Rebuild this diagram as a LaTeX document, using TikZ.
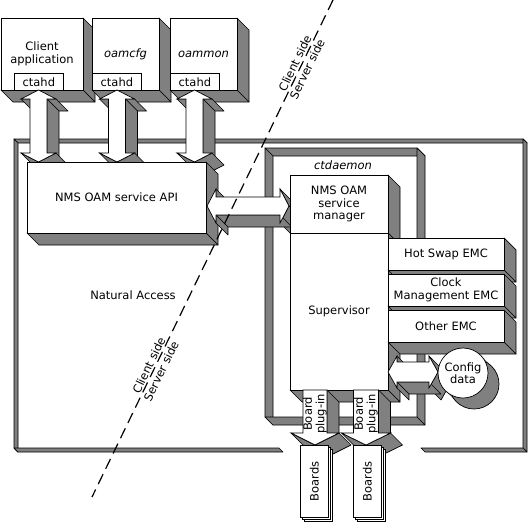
\documentclass[tikz,border=0pt]{standalone}
\usepackage{fontspec}
\setmainfont{DejaVu Sans}[ItalicFont={DejaVu Sans Oblique}]
\definecolor{shd}{RGB}{128,128,128}
% extruded polygon: list of x/y points, first repeated at the end
\newcommand\xpoly[2][12]{%
  \foreach \ax/\ay [count=\ii] in {#2}{%
    \ifnum\ii>1\relax
      \pgfmathtruncatemacro\vis{((\ay)-(\by))-((\ax)-(\bx))>0.001}%
      \ifnum\vis=1\relax
        \filldraw[xside] (\bx,\by) -- (\ax,\ay) -- ({\ax+#1},{\ay+#1}) -- ({\bx+#1},{\by+#1}) -- cycle;
      \fi
    \fi
    \xdef\bx{\ax}\xdef\by{\ay}%
  }%
  \foreach \ax/\ay [count=\ii] in {#2}{%
    \ifnum\ii=1\relax\xdef\xpath{(\ax,\ay)}\else\xdef\xpath{\xpath -- (\ax,\ay)}\fi
  }%
  \edef\xcmd{\noexpand\filldraw[xface] \xpath -- cycle;}\xcmd
}
\newcommand\xbox[7][12]{%
  \xpoly[#1]{#3/#4, #5/#4, #5/#6, #3/#6, #3/#4}%
  \node (#2) at ({(#3+#5)/2},{(#4+#6)/2}) {#7};
}
\begin{document}
\begin{tikzpicture}[x=1pt,y=-1pt,
  every node/.style={font=\fontsize{11.5}{12.4}\selectfont, inner sep=0pt, align=center},
  xside/.style={fill=shd, draw=black, line width=0.7pt, line join=round},
  xface/.style={fill=white, draw=black, line width=0.7pt},
  smallbox/.style={draw=black, fill=white, line width=0.7pt, anchor=north west, minimum height=17pt, minimum width=49pt},
  pagebox/.style={draw=black, fill=white, line width=0.7pt, anchor=north west, minimum width=28pt, minimum height=72pt},
  sidelabel/.style={rotate=64.1, font=\fontsize{11.5}{13.6}\selectfont},
  divider/.style={draw=black, line width=1.2pt, dash pattern=on 11pt off 6pt}]
\useasboundingbox (0,0) rectangle (529,522);

% Natural Access frame
\filldraw[xside] (14,139) -- (523,139) -- (527,143) -- (18,143) -- cycle;
\filldraw[xside] (14,139) -- (18,143) -- (18,452) -- (14,448) -- cycle;
\filldraw[xside] (523,139) -- (527,143) -- (527,452) -- (523,448) -- cycle;
\filldraw[xside] (14,448) -- (279,448) -- (283,452) -- (18,452) -- cycle;
\filldraw[xside] (421,448) -- (523,448) -- (527,452) -- (425,452) -- cycle;
\node (na) at (133,295) {Natural Access};

% ctdaemon frame
\filldraw[xside] (265,148) -- (417,148) -- (425,156) -- (273,156) -- cycle;
\filldraw[xside] (265,148) -- (273,156) -- (273,425) -- (265,417) -- cycle;
\filldraw[xside] (417,148) -- (425,156) -- (425,425) -- (417,417) -- cycle;
\filldraw[xside] (265,417) -- (417,417) -- (425,425) -- (273,425) -- cycle;
\node (ctd) at (343,165) {\itshape ctdaemon};

% client processes
\xbox{cli}{1}{18}{83}{90}{Client\\application}
\node[smallbox] (ct1) at (14,73) {ctahd};
\xbox{cfg}{92}{18}{159}{90}{\itshape oamcfg}
\node[smallbox] (ct2) at (92,73) {ctahd};
\xbox{mon}{170}{18}{237}{90}{\itshape oammon}
\node[smallbox] (ct3) at (170,73) {ctahd};

% vertical double arrows
\xpoly{38.5/90, 56/99, 47/99, 47/153, 56/153, 38.5/162, 21/153, 30/153, 30/99, 21/99, 38.5/90}
\xpoly{117/90, 134.5/99, 125.5/99, 125.5/153, 134.5/153, 117/162, 99.5/153, 108.5/153, 108.5/99, 99.5/99, 117/90}
\xpoly{194.5/90, 212/99, 203/99, 203/153, 212/153, 194.5/162, 177/153, 186/153, 186/99, 177/99, 194.5/90}

% API
\xbox{api}{27}{162}{206}{233}{NMS OAM service API}

% API <-> manager
\xpoly{207/206, 216/189, 216/197, 280/197, 280/189, 289/206, 280/223, 280/215, 216/215, 216/223, 207/206}

% manager / supervisor
\xbox{mgr}{290}{175}{388}{233}{NMS OAM\\service\\manager}
\xbox{sup}{290}{233}{388}{390}{Supervisor}

% EMCs
\xbox{hs}{388}{238}{504}{270}{Hot Swap EMC}
\xbox{clk}{388}{274}{504}{306}{Clock\\Management EMC}
\xbox{oth}{388}{310}{504}{342}{Other EMC}

% supervisor <-> config data
\xpoly{388/372, 397/356, 397/362, 429/362, 429/356, 438/372, 429/388, 429/382, 397/382, 397/388, 388/372}
\fill[shd] (480.68,355.32) -- (491.68,366.32) -- (456.32,401.68) -- (445.32,390.68) -- cycle;
\filldraw[xside] (474,384) circle[radius=25pt];
\node[circle, draw=black, fill=white, line width=0.7pt, minimum size=50pt] (cfgd) at (463,373) {Config\\data};

% board plug-in arrows
\xpoly{303/390, 327/390, 327/433, 339/433, 315/445, 291/433, 303/433, 303/390}
\node[rotate=90] (bp1) at (315,414) {Board\\plug-in};
\xpoly{353.5/390, 378.5/390, 378.5/433, 390.5/433, 366/445, 341.5/433, 353.5/433, 353.5/390}
\node[rotate=90] (bp2) at (366,414) {Board\\plug-in};

% boards
\node[pagebox] (b1c) at (304,449) {};
\node[pagebox] (b1b) at (302,447) {};
\node[pagebox] (b1) at (300,445) {};
\node[rotate=90] (b1t) at (b1.center) {Boards};
\node[pagebox] (b2c) at (357,449) {};
\node[pagebox] (b2b) at (355,447) {};
\node[pagebox] (b2) at (353,445) {};
\node[rotate=90] (b2t) at (b2.center) {Boards};

% client/server divider
\coordinate (dtop) at (333,0);
\coordinate (dbot) at (92,497);
\draw[divider] (dtop) -- (dbot);
\node[sidelabel] (lab1) at (301,66) {Client side\\Server side};
\node[sidelabel] (lab2) at (155,368) {Client side\\Server side};
\end{tikzpicture}
\end{document}
